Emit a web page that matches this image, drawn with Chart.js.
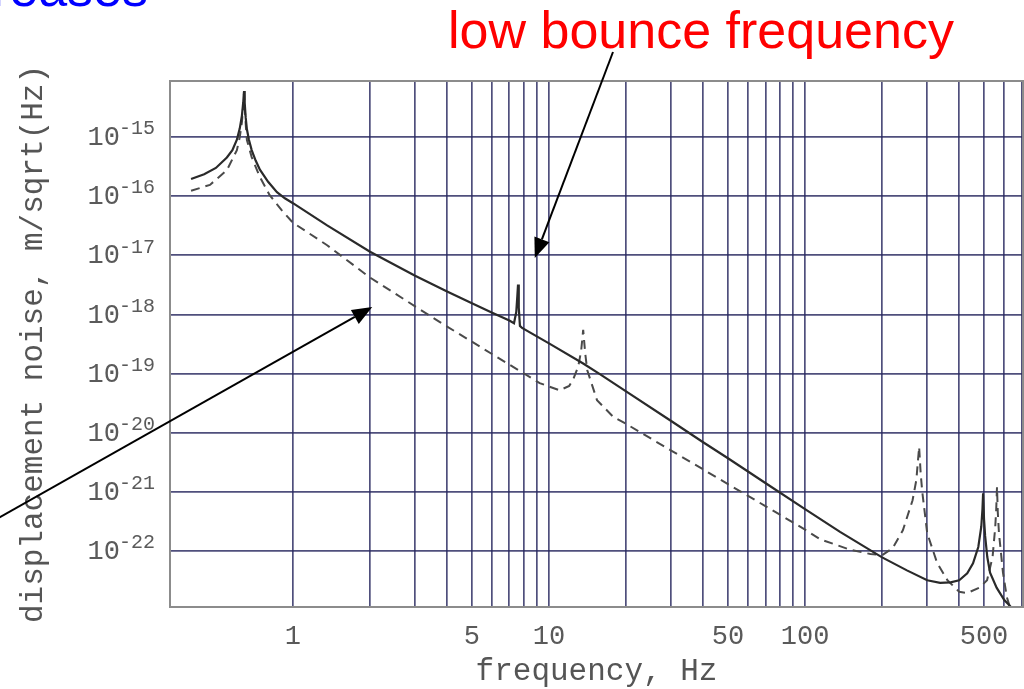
<!DOCTYPE html>
<html>
<head>
<meta charset="utf-8">
<script src="https://cdn.jsdelivr.net/npm/chart.js@4.4.1/dist/chart.umd.min.js"></script>
<style>
  html, body { margin: 0; padding: 0; background: #fff; }
  #wrap { position: relative; width: 1024px; height: 689px; }
</style>
</head>
<body>
<div id="wrap"><canvas id="noiseChart"></canvas></div>
<script>
// solid curve: frequency (Hz) and displacement noise (m/sqrt(Hz))
const solidFreq = [0.40, 0.45, 0.50, 0.552, 0.58, 0.604, 0.62, 0.632, 0.64, 0.644, 0.648, 0.654,
  0.661, 0.673, 0.69, 0.715, 0.743, 0.80, 0.866, 0.93, 1, 1.36, 2, 3, 4, 5, 6,
  7.0, 7.3, 7.45, 7.52, 7.57, 7.62, 7.7, 7.85, 10, 13.6, 15.8,
  20, 30, 40, 50, 70, 100, 137, 200, 250, 300, 337, 370, 400, 430, 453, 475,
  488, 493, 496, 500, 505, 515, 528, 560, 600, 635];
const solidNoise = [1.95e-16, 2.35e-16, 3.0e-16, 4.5e-16, 6.0e-16, 9.0e-16, 1.4e-15, 2.3e-15, 4.0e-15, 6.0e-15, 3.8e-15, 2.1e-15,
  1.35e-15, 9.0e-16, 6.0e-16, 4.0e-16, 2.8e-16, 1.75e-16, 1.17e-16, 9.2e-17, 7.6e-17, 3.2e-17, 1.15e-17, 4.5e-18, 2.45e-18, 1.55e-18, 1.07e-18,
  7.9e-19, 7.1e-19, 1.1e-18, 2.0e-18, 3.2e-18, 1.3e-18, 6.4e-19, 5.9e-19, 3.24e-19, 1.48e-19, 9.8e-20,
  5.0e-20, 1.58e-20, 6.9e-21, 3.7e-21, 1.41e-21, 5.1e-22, 2.1e-22, 7.8e-23, 4.7e-23, 3.2e-23, 2.9e-23, 2.95e-23, 3.2e-23, 4.2e-23, 6.2e-23, 1.17e-22,
  2.6e-22, 5.0e-22, 9.5e-22, 3.5e-22, 1.8e-22, 7.9e-23, 4.3e-23, 2.4e-23, 1.48e-23, 1.15e-23];

// dashed curve
const dashedFreq = [0.40, 0.474, 0.552, 0.604, 0.62, 0.632, 0.638, 0.644, 0.65, 0.655, 0.661, 0.69, 0.743, 0.81,
  0.9, 1, 1.36, 2, 3.75, 6.85, 9.2, 11, 12.0, 12.4, 13.0, 13.35, 13.6, 13.85, 14.1, 15.4, 17.8,
  20, 30, 40, 50, 70, 100, 114.5, 150, 180, 200, 220, 241, 263, 272, 279, 283, 287,
  300, 328, 360, 400, 430, 480, 514, 540, 553, 558, 562, 566, 572, 593, 614, 630];
const dashedNoise = [1.23e-16, 1.55e-16, 2.75e-16, 6.0e-16, 1.0e-15, 1.78e-15, 3.0e-15, 5.5e-15, 2.6e-15, 1.5e-15, 8.9e-16, 4.57e-16, 2.1e-16, 1.05e-16,
  5.9e-17, 3.55e-17, 1.48e-17, 4.2e-18, 7.4e-19, 1.5e-19, 6.9e-20, 5.2e-20, 6.2e-20, 7.8e-20, 1.3e-19, 2.4e-19, 5.5e-19, 2.2e-19, 1.15e-19, 3.55e-20, 1.86e-20,
  1.41e-20, 5.0e-21, 2.4e-21, 1.35e-21, 5.75e-22, 2.3e-22, 1.58e-22, 1.05e-22, 8.9e-23, 8.5e-23, 1.12e-22, 2.24e-22, 7.2e-22, 1.58e-21, 5.75e-21, 2.0e-21, 1.0e-21,
  2.0e-22, 6.3e-23, 3.2e-23, 2.04e-23, 1.95e-23, 2.4e-23, 3.2e-23, 7.9e-23, 2.5e-22, 5.0e-22, 1.2e-21, 4.5e-22, 2.0e-22, 4.3e-23, 1.66e-23, 1.15e-23];

// axes
const freqGrid = [1, 2, 3, 4, 5, 6, 7, 8, 9, 10, 20, 30, 40, 50, 60, 70, 80, 90,
  100, 200, 300, 400, 500, 600, 700];
const freqLabels = [1, 5, 10, 50, 100, 500];
const noiseGrid = [1e-22, 1e-21, 1e-20, 1e-19, 1e-18, 1e-17, 1e-16, 1e-15];

// points the two arrows aim at (Hz, m/sqrt(Hz))
const bounceTip = { x: 8.8, y: 9.0e-18 };
const dashedTip = { x: 2.04, y: 1.33e-18 };

document.addEventListener('DOMContentLoaded', function () {
  const ctx = document.getElementById('noiseChart').getContext('2d');
  const mono = "'Liberation Mono', 'DejaVu Sans Mono', monospace";
  const sans = "'Liberation Sans', Arial, sans-serif";
  const gridColor = 'rgba(40, 40, 95, 0.82)';

  function toPoints(xs, ys) {
    return xs.map((x, i) => ({ x: x, y: ys[i] }));
  }

  function drawArrow(c, x0, y0, x1, y1) {
    const ang = Math.atan2(y1 - y0, x1 - x0);
    const len = 20, half = 8;
    const bx = x1 - len * Math.cos(ang), by = y1 - len * Math.sin(ang);
    c.strokeStyle = '#000';
    c.fillStyle = '#000';
    c.lineWidth = 2;
    c.beginPath();
    c.moveTo(x0, y0);
    c.lineTo(bx, by);
    c.stroke();
    c.beginPath();
    c.moveTo(x1, y1);
    c.lineTo(bx + half * Math.sin(ang), by - half * Math.cos(ang));
    c.lineTo(bx - half * Math.sin(ang), by + half * Math.cos(ang));
    c.closePath();
    c.fill();
  }

  // frame around the plot area
  const framePlugin = {
    id: 'frame',
    afterDatasetsDraw(chart) {
      const { ctx: c, chartArea: a } = chart;
      c.save();
      c.strokeStyle = '#8c8c8c';
      c.lineWidth = 2;
      c.strokeRect(a.left, a.top, a.right - a.left, a.bottom - a.top);
      c.restore();
    }
  };

  // 10 with a raised exponent for each decade
  const powerLabels = {
    id: 'powerLabels',
    afterDraw(chart) {
      const c = chart.ctx;
      const yScale = chart.scales.y;
      c.save();
      c.fillStyle = '#5a5a5a';
      c.textBaseline = 'middle';
      yScale.ticks.forEach(t => {
        const py = yScale.getPixelForValue(t.value);
        const exp = Math.round(Math.log10(t.value));
        c.font = '27px ' + mono;
        c.textAlign = 'right';
        c.fillText('10', 120, py + 1);
        c.font = '20px ' + mono;
        c.textAlign = 'left';
        c.fillText(String(exp), 119, py - 8);
      });
      c.restore();
    }
  };

  const notes = {
    id: 'notes',
    afterDraw(chart) {
      const c = chart.ctx;
      const xs = chart.scales.x, ys = chart.scales.y;
      c.save();
      c.font = '52px ' + sans;
      c.textBaseline = 'alphabetic';
      c.fillStyle = '#0000ff';
      c.textAlign = 'right';
      c.fillText('decreases', 148, 6);
      c.fillStyle = '#ff0000';
      c.textAlign = 'center';
      c.fillText('low bounce frequency', 701, 48);
      drawArrow(c, 613, 52, xs.getPixelForValue(bounceTip.x), ys.getPixelForValue(bounceTip.y));
      drawArrow(c, -12, 524, xs.getPixelForValue(dashedTip.x), ys.getPixelForValue(dashedTip.y));
      c.restore();
    }
  };

  new Chart(ctx, {
    type: 'line',
    data: {
      datasets: [
        {
          data: toPoints(solidFreq, solidNoise),
          borderColor: '#2a2a2a',
          borderWidth: 2.2,
          pointRadius: 0,
          tension: 0
        },
        {
          data: toPoints(dashedFreq, dashedNoise),
          borderColor: '#4a4a4a',
          borderWidth: 2,
          borderDash: [9, 6],
          pointRadius: 0,
          tension: 0
        }
      ]
    },
    options: {
      responsive: true,
      maintainAspectRatio: false,
      animation: false,
      layout: { padding: { left: 0, top: 81, right: 1, bottom: 0 } },
      plugins: {
        legend: { display: false },
        tooltip: { enabled: false }
      },
      scales: {
        x: {
          type: 'logarithmic',
          bounds: 'data',
          min: 0.331,
          max: 710,
          afterBuildTicks: scale => { scale.ticks = freqGrid.map(v => ({ value: v })); },
          afterFit: scale => {
            scale.height = 82;
            scale.paddingLeft = 0;
            scale.paddingRight = 0;
          },
          grid: { color: gridColor, lineWidth: 1.7, drawTicks: false },
          border: { display: false },
          ticks: {
            autoSkip: false,
            maxRotation: 0,
            padding: 14,
            color: '#5a5a5a',
            font: { family: mono, size: 27 },
            callback: v => freqLabels.includes(v) ? String(v) : ''
          },
          title: {
            display: true,
            text: 'frequency, Hz',
            color: '#555',
            font: { family: mono, size: 31, lineHeight: 1 },
            padding: { top: 0, bottom: 2 }
          }
        },
        y: {
          type: 'logarithmic',
          bounds: 'data',
          min: 1.13e-23,
          max: 8.85e-15,
          afterBuildTicks: scale => { scale.ticks = noiseGrid.map(v => ({ value: v })); },
          afterFit: scale => { scale.width = 170; },
          grid: { color: gridColor, lineWidth: 1.7, drawTicks: false },
          border: { display: false },
          ticks: { display: false },
          title: {
            display: true,
            text: 'displacement noise, m/sqrt(Hz)',
            color: '#555',
            font: { family: mono, size: 31, lineHeight: 1 },
            padding: { top: 18, bottom: 0 }
          }
        }
      }
    },
    plugins: [framePlugin, powerLabels, notes]
  });
});
</script>
</body>
</html>
